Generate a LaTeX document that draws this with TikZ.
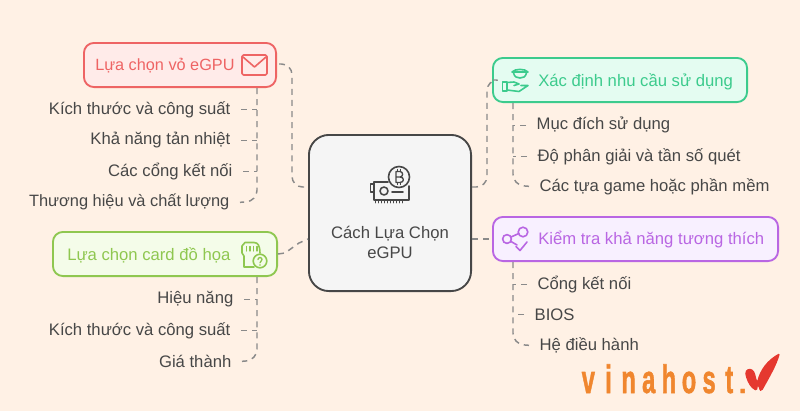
\documentclass[tikz,border=0pt]{standalone}
\usepackage{fontspec}
\setmainfont{Liberation Sans}
\usetikzlibrary{calc}
\definecolor{bgc}{HTML}{FFF1E5}
\definecolor{redS}{HTML}{EE6464}\definecolor{redF}{HTML}{FFEBE9}
\definecolor{grnS}{HTML}{8FC750}\definecolor{grnF}{HTML}{F4FCE9}
\definecolor{tealS}{HTML}{3CCB8D}\definecolor{tealF}{HTML}{E4FCF1}
\definecolor{purS}{HTML}{B966E3}\definecolor{purF}{HTML}{F8F0FF}
\definecolor{txt}{HTML}{474747}
\definecolor{conn}{HTML}{8A8A8A}
\definecolor{logoO}{HTML}{F0862E}
\definecolor{logoR}{HTML}{E5382F}
\newcommand{\fs}{\fontsize{12.5}{14}\selectfont}
\newcommand{\fsb}{\fontsize{12.2}{14}\selectfont}
\newcommand{\lgl}[1]{\makebox[15.1pt]{\scalebox{1.05}[1.75]{#1}}}
\tikzset{
  x=0.75pt,y=-0.75pt,
  boxn/.style={draw,rounded corners=7.5pt,line width=1.4pt,inner sep=0pt,anchor=north west,font=\fs},
  item/.style={text=txt,font=\fs,inner sep=0pt,outer xsep=8pt,yshift=-1pt},
  itemL/.style={item,anchor=east},
  itemR/.style={item,anchor=west},
  boxt/.style={font=\fs,inner sep=0pt,anchor=west,yshift=-0.7pt},
  lnk/.style={draw=conn,line width=1.1pt,dash pattern=on 4.5pt off 3.8pt,rounded corners=8pt},
  ico/.style={line width=1.2pt,line join=round,line cap=round},
}
\begin{document}
\begin{tikzpicture}
\useasboundingbox (0,0) rectangle (800,411);
\fill[bgc] (0,0) rectangle (800,411);

% centre
\node[draw=txt,fill=white!96!black,rounded corners=15pt,line width=1.4pt,minimum width=121.6pt,minimum height=117.1pt,inner sep=0pt,anchor=north west] (c) at (308,134) {};
\node[text=txt,font=\fs,align=center,inner sep=0pt,yshift=-0.7pt] (ct) at (390,241.5) {Cách Lựa Chọn\\[1.2pt]eGPU};

% main boxes
\node[boxn,draw=redS,fill=redF,minimum width=144.1pt,minimum height=33.1pt] (b1) at (83,42) {};
\node[boxt,text=redS,font=\fsb] (b1t) at (95,65) {Lựa chọn vỏ eGPU};
\node[boxn,draw=grnS,fill=grnF,minimum width=168.1pt,minimum height=33.1pt] (b2) at (52,231) {};
\node[boxt,text=grnS] (b2t) at (67,254) {Lựa chọn card đồ họa};
\node[boxn,draw=tealS,fill=tealF,minimum width=190.6pt,minimum height=33.1pt] (b3) at (492,57) {};
\node[boxt,text=tealS] (b3t) at (538,81) {Xác định nhu cầu sử dụng};
\node[boxn,draw=purS,fill=purF,minimum width=213.85pt,minimum height=33.1pt] (b4) at (492,216) {};
\node[boxt,text=purS] (b4t) at (538,239) {Kiểm tra khả năng tương thích};

% items
\node[itemL] (a1) at (241,108) {Kích thước và công suất};
\node[itemL] (a2) at (241,139) {Khả năng tản nhiệt};
\node[itemL] (a3) at (243,170) {Các cổng kết nối};
\node[itemL,font=\fontsize{12.3}{14}\selectfont] (a4) at (240,201) {Thương hiệu và chất lượng};
\node[itemL] (d1) at (244,298) {Hiệu năng};
\node[itemL] (d2) at (241,329) {Kích thước và công suất};
\node[itemL] (d3) at (242,360) {Giá thành};
\node[itemR] (g1) at (526,124) {Mục đích sử dụng};
\node[itemR] (g2) at (527,155) {Độ phân giải và tần số quét};
\node[itemR] (g3) at (529,185) {Các tựa game hoặc phần mềm};
\node[itemR] (p1) at (527,283) {Cổng kết nối};
\node[itemR] (p2) at (524,313) {BIOS};
\node[itemR] (p3) at (529,344) {Hệ điều hành};

% connectors: box to centre
\coordinate (c1a) at (279,64); \coordinate (c1b) at (292,64);
\coordinate (c1c) at (292,187); \coordinate (c1d) at (c.west|-c1c);
\draw[lnk] (c1a) -- (c1b) -- (c1c) -- (c1d);
\coordinate (c2a) at (b2.east); \coordinate (c2d) at (c.west|-0,239);
\draw[lnk,rounded corners=0pt] (c2a) -- (285,253) -- (299,243) -- (c2d);
\coordinate (c3a) at (c.east|-0,187); \coordinate (c3b) at (487,187);
\coordinate (c3c) at (487,80); \coordinate (c3d) at (b3.west|-c3c);
\draw[lnk] (c3a) -- (c3b) -- (c3c) -- (c3d);
\draw[lnk] (c.east|-b4.west) -- (b4.west);

% sub trunks and branches
\coordinate (k1) at (257,201);
\draw[lnk] (b1.south west-|k1) -- (k1) -- (a4.east);
\coordinate (k2) at (257,360);
\draw[lnk] (b2.south west-|k2) -- (k2) -- (d3.east);
\coordinate (k3) at (513,185);
\draw[lnk] (b3.south west-|k3) -- (k3) -- (g3.west);
\coordinate (k4) at (513,344);
\draw[lnk] (b4.south west-|k4) -- (k4) -- (p3.west);
\foreach \n/\k in {a1/k1,a2/k1,a3/k1,d1/k2,d2/k2}{\draw[lnk] (\n.east) -- (\k|-\n.east);}
\foreach \n/\k in {g1/k3,g2/k3,p1/k4,p2/k4}{\draw[lnk] (\n.west) -- (\k|-\n.west);}

% envelope icon
\begin{scope}[shift={(242,55)},ico]
\draw[redS,rounded corners=1.2pt] (0,0) rectangle (25,20);
\draw[redS] (1,2) -- (12.5,12) -- (24,2);
\end{scope}

% sd card icon
\begin{scope}[shift={(241,242)},ico]
\draw[grnS] (13,25) -- (3,25) -- (3,14) -- (1,11) -- (1,4) -- (4,0.5) -- (13,0.5) .. controls (17,0.5) and (19,4) .. (19,11);
\foreach \x in {5.5,9,12.5,16}{\draw[grnS,line width=.9pt] (\x,4.5) -- (\x,9);}
\draw[grnS] (19,19) circle[radius=6.8];
\draw[grnS,line width=1pt] (17,17.5) arc[start angle=180,end angle=420,radius=2] -- (19,20.8);
\fill[grnS] (19,23) circle[radius=0.8];
\end{scope}

% hand with bowl icon
\begin{scope}[shift={(502,69)},ico]
\draw[tealS] (10,3) .. controls (13,-0.5) and (23,-0.5) .. (26,3) -- cycle;
\draw[tealS] (11.5,4) .. controls (12.5,8) and (15,9) .. (18,9) .. controls (21,9) and (23.5,8) .. (24.5,4);
\draw[tealS] (0.5,13) rectangle (5,22);
\draw[tealS] (5,13.5) -- (12,13) -- (17,15) -- (12,16.5) (5,21) -- (17,22.5) -- (26,16.5) -- (19,16.5);
\end{scope}

% share icon
\begin{scope}[shift={(502,226)},ico]
\draw[purS] (5,13) circle[radius=4.4];
\draw[purS] (21,6) circle[radius=4.8];
\draw[purS] (9,11) -- (16.8,7.5);
\draw[purS] (9,15.5) -- (15,19);
\draw[purS] (14,20.5) -- (18,24.5) -- (25,16);
\end{scope}

% gpu icon
\begin{scope}[shift={(370,166)},ico]
\draw[txt] (18,16) -- (4,16) -- (4,34) -- (39,34) -- (39,20);
\draw[txt] (4,18) -- (0.5,18) -- (0.5,26) -- (4,26);
\draw[txt] (14,25) circle[radius=4];
\draw[txt] (22,26) -- (33,26);
\foreach \x in {5,8,...,32}{\draw[txt,line width=.7pt] (\x,34) -- (\x,37);}
\draw[txt] (29,11) circle[radius=10.5];
\draw[txt,line width=1pt] (26,5.5) -- (26,16.5) (26,5.5) -- (30,5.5) .. controls (33.5,5.5) and (33.5,11) .. (30,11) -- (26,11) (30,11) .. controls (34.5,11) and (34.5,16.5) .. (30,16.5) -- (26,16.5);
\draw[txt,line width=.8pt] (27.5,3.5) -- (27.5,5.5) (30.5,3.5) -- (30.5,5.5) (27.5,16.5) -- (27.5,18.5) (30.5,16.5) -- (30.5,18.5);
\end{scope}

% logo
\node[text=logoO,font=\fontsize{17}{18}\selectfont\bfseries\addfontfeature{FakeBold=1.5},inner sep=0pt,anchor=base west] (logo) at (578,393) {\lgl{v}\lgl{i}\lgl{n}\lgl{a}\lgl{h}\lgl{o}\lgl{s}\lgl{t}\makebox[5pt]{\scalebox{1.2}{.}}};
\fill[logoR,rounded corners=1.2pt] (753,389) .. controls (749,385) and (746,379) .. (745,372) .. controls (748,368) and (752,368) .. (755,373) .. controls (756,378) and (757,381) .. (757,382) .. controls (760,370) and (767,360) .. (780,353) .. controls (777,365) and (768,380) .. (762,391) .. controls (760,391) and (759,389) .. (758,385) -- (757,391) -- cycle;
\end{tikzpicture}
\end{document}
